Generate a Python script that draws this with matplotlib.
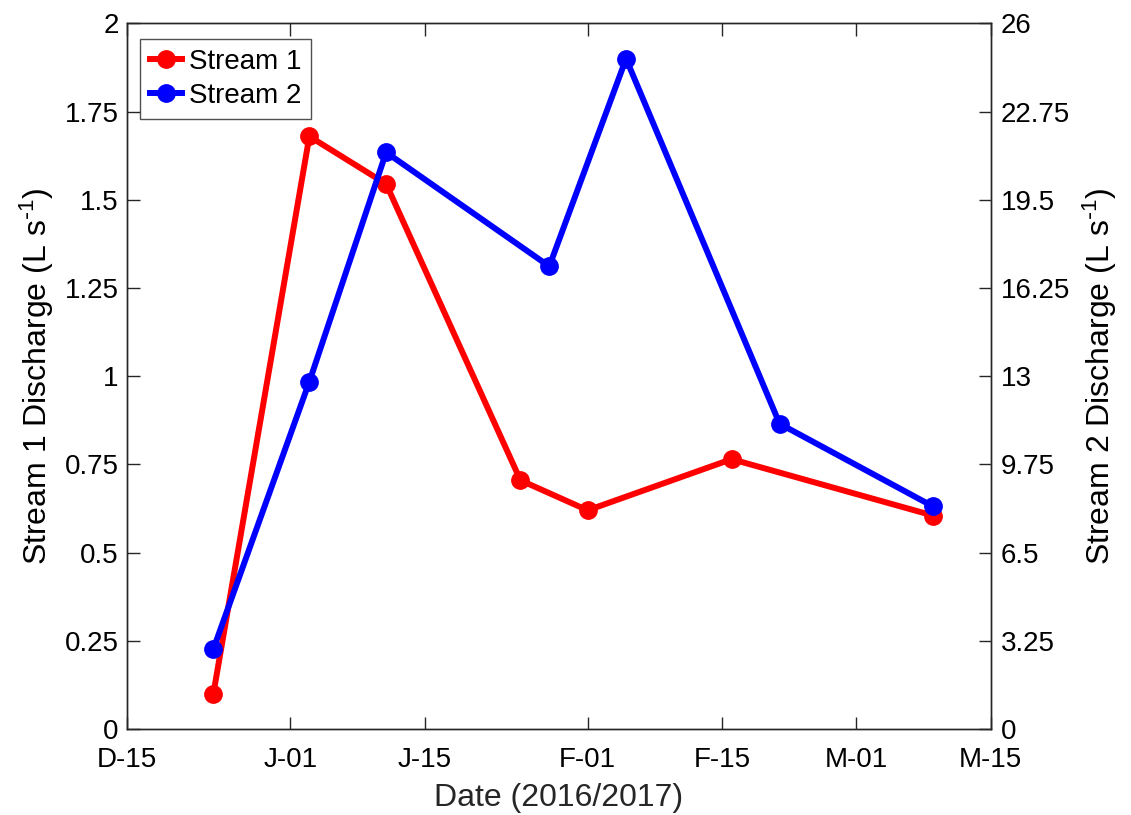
import matplotlib
matplotlib.use("Agg")
import matplotlib.pyplot as plt
import numpy as np
from datetime import date

plt.rcParams["font.family"] = ["Liberation Sans", "DejaVu Sans"]
plt.rcParams["mathtext.default"] = "regular"

# sampling dates and discharges
s1_dates = [date(2016, 12, 24), date(2017, 1, 3), date(2017, 1, 11), date(2017, 1, 25),
            date(2017, 2, 1), date(2017, 2, 16), date(2017, 3, 9)]
s1_q = [0.10, 1.68, 1.545, 0.705, 0.62, 0.765, 0.605]

s2_dates = [date(2016, 12, 24), date(2017, 1, 3), date(2017, 1, 11), date(2017, 1, 28),
            date(2017, 2, 5), date(2017, 2, 21), date(2017, 3, 9)]
s2_q = [2.95, 12.8, 21.25, 17.05, 24.7, 11.25, 8.2]

tick_dates = [date(2016, 12, 15), date(2017, 1, 1), date(2017, 1, 15), date(2017, 2, 1),
              date(2017, 2, 15), date(2017, 3, 1), date(2017, 3, 15)]
tick_labels = ["D-15", "J-01", "J-15", "F-01", "F-15", "M-01", "M-15"]
left_ticks = [0, 0.25, 0.5, 0.75, 1, 1.25, 1.5, 1.75, 2]
left_labels = ["0", "0.25", "0.5", "0.75", "1", "1.25", "1.5", "1.75", "2"]
right_ticks = [0, 3.25, 6.5, 9.75, 13, 16.25, 19.5, 22.75, 26]
right_labels = ["0", "3.25", "6.5", "9.75", "13", "16.25", "19.5", "22.75", "26"]

fig = plt.figure(figsize=(11.31, 8.15), dpi=100)
ax = fig.add_axes([0.1123, 0.1055, 0.7637, 0.8657])
ax2 = ax.twinx()

tick_kw = dict(direction="in", length=9, width=1, colors="#262626", labelsize=20,
               labelcolor="black")

l1, = ax.plot(s1_dates, s1_q, "-o", color="red", lw=4.3, ms=12.5, label="Stream 1")
l2, = ax2.plot(s2_dates, s2_q, "-o", color="blue", lw=4.3, ms=12.5, label="Stream 2")

ax.set_xlim(date(2016, 12, 15), date(2017, 3, 15))
ax.set_xticks(tick_dates)
ax.set_xticklabels(tick_labels)
ax.set_ylim(0, 2)
ax.set_yticks(left_ticks)
ax.set_yticklabels(left_labels)
ax2.set_ylim(0, 26)
ax2.set_yticks(right_ticks)
ax2.set_yticklabels(right_labels)

ax.tick_params(axis="x", top=True, pad=13, **tick_kw)
ax.tick_params(axis="y", pad=6, **tick_kw)
ax2.tick_params(axis="y", pad=7, **tick_kw)
for a in (ax, ax2):
    for sp in a.spines.values():
        sp.set_color("#262626")
        sp.set_linewidth(1)

ax.set_xlabel("Date (2016/2017)", fontsize=23, labelpad=7, color="#262626")
ax.set_ylabel(r"Stream 1 Discharge (L s$^{\text{-}1}$)", fontsize=23, labelpad=6)
ax2.set_ylabel(r"Stream 2 Discharge (L s$^{\text{-}1}$)", fontsize=23, labelpad=8)

leg = ax.legend(handles=[l1, l2], loc="upper left", bbox_to_anchor=(0.015, 0.978),
                fontsize=20, frameon=True, fancybox=False, edgecolor="#262626",
                handlelength=1.15, handletextpad=0.25, borderpad=0.35, labelspacing=0.3,
                borderaxespad=0)
leg.get_frame().set_linewidth(1)

fig.savefig("out.png", dpi=100)
